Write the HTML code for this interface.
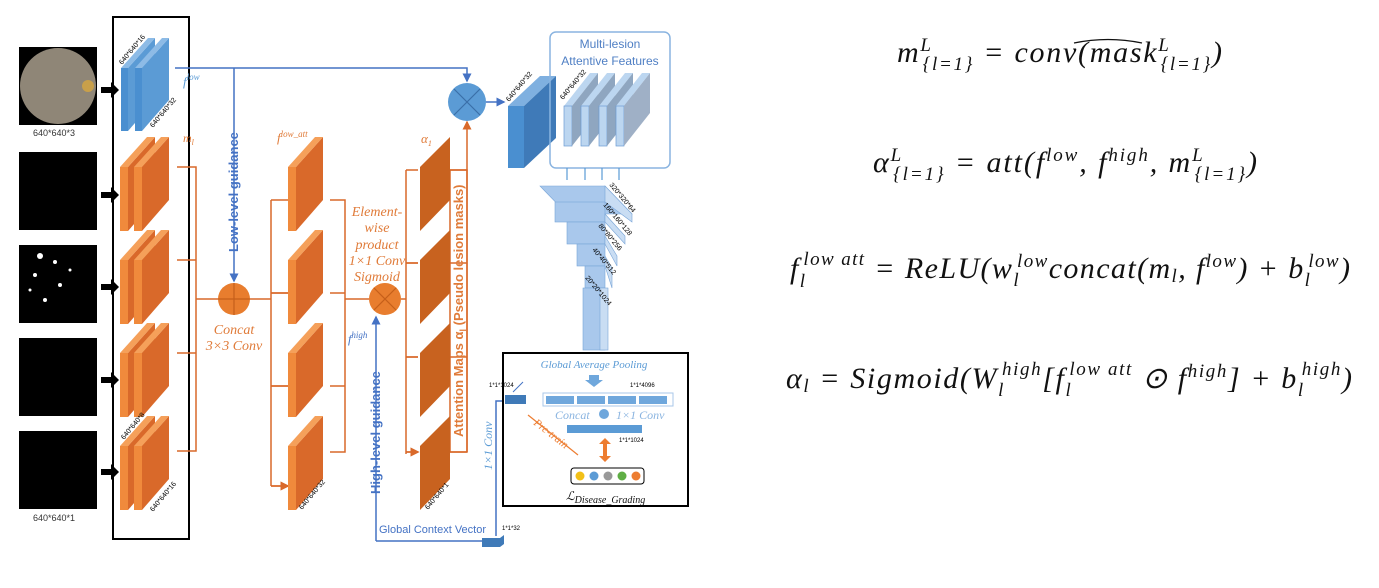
<!DOCTYPE html>
<html><head><meta charset="utf-8"><style>
body{margin:0;background:#fff;}
svg{display:block}
.eq{font-family:"Liberation Serif",serif;font-style:italic;font-size:30px;fill:#111}
.sm{font-size:19px}
</style></head><body>
<svg width="1379" height="588" viewBox="0 0 1379 588" xmlns="http://www.w3.org/2000/svg" font-family="Liberation Sans, sans-serif">
<defs>
<g id="os"><rect x="0" y="30" width="8" height="64" fill="#f08a3c"/><polygon points="8,30 35,0 35,63 8,94" fill="#d9692a"/><polygon points="0,30 27,0 35,0 8,30" fill="#f5a05a"/></g>
<g id="od"><use href="#os"/><use href="#os" x="14"/></g>
<g id="bs"><rect x="0" y="30" width="7" height="63" fill="#4a8fd0"/><polygon points="7,30 34,0 34,62 7,93" fill="#5b9bd5"/><polygon points="0,30 27,0 34,0 7,30" fill="#8dbbe6"/></g>
<g id="al"><polygon points="0,30 30,0 30,63 0,94" fill="#c8621f"/></g>
<marker id="ao" markerWidth="6" markerHeight="6" refX="5" refY="3" orient="auto"><path d="M0,0L6,3L0,6z" fill="#d9692a"/></marker>
<marker id="ab" markerWidth="6" markerHeight="6" refX="5" refY="3" orient="auto"><path d="M0,0L6,3L0,6z" fill="#4472c4"/></marker>
</defs>
<!-- images -->
<rect x="19" y="47" width="78" height="78" fill="#000"/>
<circle cx="58" cy="86" r="38" fill="#8f8677"/><circle cx="88" cy="86" r="6" fill="#c9a04a"/>
<text x="33" y="136" font-size="9" fill="#333">640*640*3</text>
<rect x="19" y="152" width="78" height="78" fill="#000"/>
<rect x="19" y="245" width="78" height="78" fill="#000"/>
<g fill="#fff"><circle cx="40" cy="256" r="3"/><circle cx="55" cy="262" r="2"/><circle cx="35" cy="275" r="2"/><circle cx="60" cy="285" r="2"/><circle cx="45" cy="300" r="2"/><circle cx="70" cy="270" r="1.5"/><circle cx="30" cy="290" r="1.5"/></g>
<rect x="19" y="338" width="78" height="78" fill="#000"/>
<rect x="19" y="431" width="78" height="78" fill="#000"/>
<text x="33" y="521" font-size="9" fill="#333">640*640*1</text>
<!-- black arrows -->
<g fill="#000"><path d="M101,87h10v-5l8,8l-8,8v-5h-10z"/><path d="M101,192h10v-5l8,8l-8,8v-5h-10z"/><path d="M101,284h10v-5l8,8l-8,8v-5h-10z"/><path d="M101,377h10v-5l8,8l-8,8v-5h-10z"/><path d="M101,469h10v-5l8,8l-8,8v-5h-10z"/></g>
<rect x="113" y="17" width="76" height="522" fill="none" stroke="#000" stroke-width="2"/>
<!-- blue encoder -->
<use href="#bs" x="121" y="38"/><use href="#bs" x="135" y="38"/>
<text transform="translate(122,65) rotate(-50)" font-size="7" fill="#000">640*640*16</text>
<text transform="translate(153,128) rotate(-50)" font-size="7" fill="#000">640*640*32</text>
<text x="183" y="86" font-size="13" font-style="italic" fill="#5b9bd5" font-family="Liberation Serif, serif">f<tspan dy="-6" font-size="9">low</tspan></text>
<!-- orange encoder -->
<use href="#od" x="120" y="137"/><use href="#od" x="120" y="230"/><use href="#od" x="120" y="323"/><use href="#od" x="120" y="416"/>
<text x="183" y="142" font-size="12" font-style="italic" fill="#e07b39" font-family="Liberation Serif, serif">m<tspan dy="3" font-size="8">l</tspan></text>
<text transform="translate(124,440) rotate(-50)" font-size="7" fill="#000">640*640*8</text>
<text transform="translate(153,512) rotate(-50)" font-size="7" fill="#000">640*640*16</text>
<!-- orange lines to concat -->
<g stroke="#d9692a" stroke-width="1.5" fill="none">
<path d="M177,167h19v284h-19M177,260h19M177,353h19M196,299h22"/>
<path d="M250,299h21M271,200v286M271,200h17M271,293h17M271,386h17M271,486h17" marker-end="url(#ao)"/>
<path d="M271,293h17M271,386h17M271,486h17" marker-end="url(#ao)"/>
<path d="M330,200h15v252h-15M330,293h15M330,386h15M345,299h24"/>
<path d="M401,299h5M406,170v284M406,170h12M406,263h12M406,357h12M406,452h12" marker-end="url(#ao)"/>
<path d="M406,263h12M406,357h12M406,452h12" marker-end="url(#ao)"/>
<path d="M450,170h17M450,263h17M450,357h17M450,452h17M467,452V122" marker-end="url(#ao)"/>
</g>
<rect x="450" y="170" width="17" height="282" fill="none" stroke="#d9692a" stroke-width="1.5"/>
<!-- circles -->
<circle cx="234" cy="299" r="16" fill="#e87d2e"/><path d="M234,283v32M218,299h32" stroke="#c55f1a" stroke-width="1.2"/>
<circle cx="385" cy="299" r="16" fill="#e87d2e"/><path d="M374,288l22,22M396,288l-22,22" stroke="#c55f1a" stroke-width="1.2"/>
<circle cx="467" cy="102" r="19" fill="#5b9bd5"/><path d="M454,89l26,26M480,89l-26,26" stroke="#3a6fa8" stroke-width="1.2"/>
<!-- blue lines -->
<g stroke="#4472c4" stroke-width="1.5" fill="none">
<path d="M175,68h292v13" marker-end="url(#ab)"/>
<path d="M234,68v213" marker-end="url(#ab)"/>
<path d="M486,102h18" marker-end="url(#ab)"/>
<path d="M376,541V317" marker-end="url(#ab)"/>
<path d="M376,541h107"/>
<path d="M496,536V401h8"/>
<path d="M510,144l14,14" marker-end="url(#ab)"/>
</g>
<text transform="translate(238,252) rotate(-90)" font-size="13" font-weight="bold" fill="#4472c4">Low-level guidance</text>
<text transform="translate(380,494) rotate(-90)" font-size="13" font-weight="bold" fill="#4472c4">High-level guidance</text>
<text transform="translate(463,437) rotate(-90)" font-size="13" font-weight="bold" fill="#e07b39">Attention Maps α<tspan font-size="9" dy="3">l</tspan><tspan dy="-3"> (Pseudo lesion masks)</tspan></text>
<!-- middle blocks -->
<use href="#os" x="288" y="137"/><use href="#os" x="288" y="230"/><use href="#os" x="288" y="323"/><use href="#os" x="288" y="416"/>
<use href="#al" x="420" y="137"/><use href="#al" x="420" y="230"/><use href="#al" x="420" y="323"/><use href="#al" x="420" y="416"/>
<text x="277" y="142" font-size="13" font-style="italic" fill="#e07b39" font-family="Liberation Serif, serif">f<tspan dy="-5" font-size="9">low_att</tspan></text>
<text x="421" y="143" font-size="13" font-style="italic" fill="#e07b39" font-family="Liberation Serif, serif">α<tspan dy="3" font-size="8">1</tspan></text>
<text x="348" y="343" font-size="12" font-style="italic" fill="#4472c4" font-family="Liberation Serif, serif">f<tspan dy="-5" font-size="9">high</tspan></text>
<text transform="translate(302,510) rotate(-50)" font-size="7" fill="#000">640*640*32</text>
<text transform="translate(428,510) rotate(-50)" font-size="7" fill="#000">640*640*1</text>
<g font-size="14" font-style="italic" fill="#e07b39" font-family="Liberation Serif, serif" text-anchor="middle">
<text x="234" y="334">Concat</text><text x="234" y="350">3×3 Conv</text>
<text x="377" y="216">Element-</text><text x="377" y="232">wise</text><text x="377" y="249">product</text><text x="377" y="265">1×1 Conv</text><text x="377" y="281">Sigmoid</text>
</g>
<!-- big blue block -->
<polygon points="508,106 540,76 556,76 524,106" fill="#7fb0e0"/>
<rect x="508" y="106" width="16" height="62" fill="#4a8fd0"/>
<polygon points="524,106 556,76 556,138 524,168" fill="#3f7ab8"/>
<text transform="translate(509,102) rotate(-50)" font-size="7" fill="#000">640*640*32</text>
<rect x="550" y="32" width="120" height="136" rx="6" fill="none" stroke="#8ab4e0" stroke-width="1.5"/>
<text x="610" y="48" font-size="12" fill="#4f7fc4" text-anchor="middle">Multi-lesion</text>
<text x="610" y="65" font-size="12" fill="#4f7fc4" text-anchor="middle">Attentive Features</text>
<g>
<polygon points="564,106 590,73 598,73 572,106" fill="#bcd6f0"/><rect x="564" y="106" width="8" height="40" fill="#bcd6f0" stroke="#6c9bd2" stroke-width=".7"/><polygon points="572,106 598,73 598,113 572,146" fill="#8fa6c0"/>
<polygon points="581,106 607,73 615,73 589,106" fill="#bcd6f0"/><rect x="581" y="106" width="8" height="40" fill="#bcd6f0" stroke="#6c9bd2" stroke-width=".7"/><polygon points="589,106 615,73 615,113 589,146" fill="#8fa6c0"/>
<polygon points="599,106 625,73 633,73 607,106" fill="#bcd6f0"/><rect x="599" y="106" width="8" height="40" fill="#bcd6f0" stroke="#6c9bd2" stroke-width=".7"/><polygon points="607,106 633,73 633,113 607,146" fill="#8fa6c0"/>
<polygon points="616,106 642,73 650,73 624,106" fill="#bcd6f0"/><rect x="616" y="106" width="8" height="40" fill="#bcd6f0" stroke="#6c9bd2" stroke-width=".7"/><polygon points="624,106 650,73 650,113 624,146" fill="#9fb0c6"/>
</g>
<text transform="translate(563,100) rotate(-50)" font-size="7" fill="#000">640*640*32</text>
<g stroke="#5b9bd5" stroke-width="1.2"><path d="M567,168v12M585,168v12M602,168v12M619,168v12"/></g>
<!-- pyramid -->
<g fill="#a9c8ec" stroke="#7aa6d8" stroke-width=".6">
<polygon points="540,186 605,186 632,214 567,214"/>
<rect x="555" y="202" width="50" height="20"/><polygon points="605,186 632,214 632,222 605,202" fill="#c9ddf3"/>
<rect x="567" y="222" width="38" height="22"/><polygon points="605,214 625,236 625,244 605,222" fill="#c9ddf3"/>
<rect x="577" y="244" width="28" height="22"/><polygon points="605,236 617,256 617,266 605,244" fill="#c9ddf3"/>
<rect x="585" y="266" width="20" height="22"/><polygon points="605,256 612,268 612,288 605,266" fill="#c9ddf3"/>
<rect x="583" y="288" width="22" height="62"/><rect x="600" y="288" width="8" height="62" fill="#c9ddf3"/>
</g>
<g font-size="7" fill="#000">
<text transform="translate(609,185) rotate(50)">320*320*64</text>
<text transform="translate(603,205) rotate(50)">160*160*128</text>
<text transform="translate(598,226) rotate(50)">80*80*256</text>
<text transform="translate(592,250) rotate(50)">40*40*512</text>
<text transform="translate(585,278) rotate(50)">20*20*1024</text>
</g>
<!-- grading box -->
<rect x="503" y="353" width="185" height="153" fill="#fff" stroke="#000" stroke-width="2"/>
<text x="594" y="368" font-size="11" font-style="italic" fill="#5b9bd5" text-anchor="middle" font-family="Liberation Serif, serif">Global Average Pooling</text>
<path d="M589,375h10v5h4l-9,7l-9,-7h4z" fill="#6fa7dc"/>
<text x="489" y="387" font-size="6" fill="#000">1*1*1024</text>
<text x="630" y="387" font-size="6" fill="#000">1*1*4096</text>
<path d="M523,382l-10,10" stroke="#4472c4" stroke-width="1"/>
<rect x="505" y="395" width="21" height="9" fill="#3f7ab8"/>
<rect x="543" y="393" width="130" height="13" fill="none" stroke="#a8c7e8"/>
<g fill="#6fa7dc"><rect x="546" y="396" width="28" height="8"/><rect x="577" y="396" width="28" height="8"/><rect x="608" y="396" width="28" height="8"/><rect x="639" y="396" width="28" height="8"/></g>
<text x="555" y="419" font-size="12" font-style="italic" fill="#8ab4e0" font-family="Liberation Serif, serif">Concat</text>
<circle cx="604" cy="414" r="5" fill="#6fa7dc"/>
<text x="616" y="419" font-size="12" font-style="italic" fill="#8ab4e0" font-family="Liberation Serif, serif">1×1 Conv</text>
<rect x="567" y="425" width="75" height="8" fill="#5b9bd5"/>
<text x="619" y="442" font-size="6" fill="#000">1*1*1024</text>
<path d="M605,438l-6,6h4v12h-4l6,6l6,-6h-4v-12h4z" fill="#ed7d31"/>
<path d="M528,415l50,40" stroke="#ed7d31" stroke-width="1.2"/>
<text transform="translate(533,424) rotate(38)" font-size="11" font-style="italic" fill="#ed7d31" font-family="Liberation Serif, serif">Pre-train</text>
<rect x="571" y="468" width="73" height="16" rx="3" fill="#fff" stroke="#000"/>
<circle cx="580" cy="476" r="4.5" fill="#f2c018"/><circle cx="594" cy="476" r="4.5" fill="#5b9bd5"/><circle cx="608" cy="476" r="4.5" fill="#999"/><circle cx="622" cy="476" r="4.5" fill="#5fae45"/><circle cx="636" cy="476" r="4.5" fill="#ed7d31"/>
<text x="566" y="500" font-size="12" font-style="italic" fill="#111" font-family="Liberation Serif, serif">ℒ<tspan dy="3" font-size="10">Disease_Grading</tspan></text>
<text transform="translate(492,470) rotate(-90)" font-size="12" font-style="italic" fill="#5b9bd5" font-family="Liberation Serif, serif">1×1 Conv</text>
<text x="379" y="533" font-size="11" fill="#4472c4">Global Context Vector</text>
<text x="502" y="530" font-size="6" fill="#000">1*1*32</text>
<polygon points="482,538 500,538 504,535 504,544 500,547 482,547" fill="#3f7ab8"/>
<!-- equations -->
<text class="eq" x="897" y="62" textLength="325" lengthAdjust="spacing">m<tspan class="sm" dy="-11">L</tspan><tspan class="sm" dx="-10" dy="19">{l=1}</tspan><tspan dy="-8"> = conv(mask</tspan><tspan class="sm" dy="-11">L</tspan><tspan class="sm" dx="-10" dy="19">{l=1}</tspan><tspan dy="-8">)</tspan></text>
<path d="M1074,43q34,-7 68,0" stroke="#111" fill="none" stroke-width="1.2"/>
<text class="eq" x="873" y="172" textLength="384" lengthAdjust="spacing">α<tspan class="sm" dy="-11">L</tspan><tspan class="sm" dx="-10" dy="19">{l=1}</tspan><tspan dy="-8"> = att(f</tspan><tspan class="sm" dy="-11">low</tspan><tspan dy="11">, f</tspan><tspan class="sm" dy="-11">high</tspan><tspan dy="11">, m</tspan><tspan class="sm" dy="-11">L</tspan><tspan class="sm" dx="-10" dy="19">{l=1}</tspan><tspan dy="-8">)</tspan></text>
<text class="eq" x="790" y="278" textLength="560" lengthAdjust="spacing">f<tspan class="sm" dy="9">l</tspan><tspan class="sm" dx="-3" dy="-22">low att</tspan><tspan dy="13"> = ReLU(w</tspan><tspan class="sm" dy="8">l</tspan><tspan class="sm" dx="-3" dy="-19">low</tspan><tspan dy="11">concat(m</tspan><tspan class="sm" dy="4">l</tspan><tspan dy="-4">, f</tspan><tspan class="sm" dy="-11">low</tspan><tspan dy="11">) + b</tspan><tspan class="sm" dy="8">l</tspan><tspan class="sm" dx="-3" dy="-19">low</tspan><tspan dy="11">)</tspan></text>
<text class="eq" x="786" y="388" textLength="566" lengthAdjust="spacing">α<tspan class="sm" dy="4">l</tspan><tspan dy="-4"> = Sigmoid(W</tspan><tspan class="sm" dy="8">l</tspan><tspan class="sm" dx="-3" dy="-21">high</tspan><tspan dy="13">[f</tspan><tspan class="sm" dy="8">l</tspan><tspan class="sm" dx="-3" dy="-21">low att</tspan><tspan dy="13"> ⊙ f</tspan><tspan class="sm" dy="-11">high</tspan><tspan dy="11">] + b</tspan><tspan class="sm" dy="8">l</tspan><tspan class="sm" dx="-3" dy="-21">high</tspan><tspan dy="13">)</tspan></text>
</svg>
</body></html>
